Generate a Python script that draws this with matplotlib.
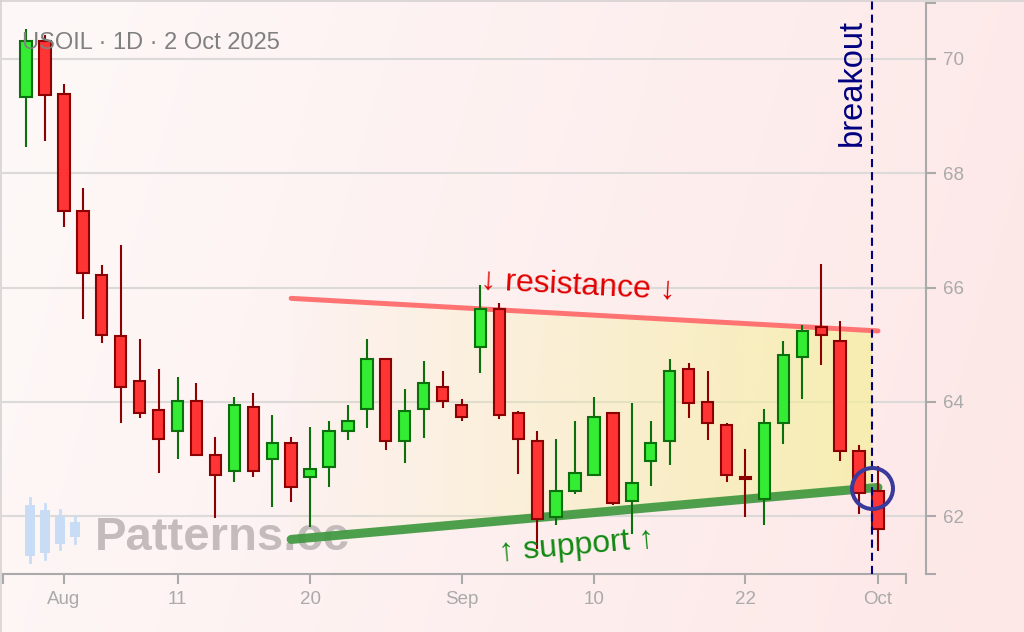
import matplotlib
matplotlib.use('Agg')
import matplotlib.pyplot as plt
import numpy as np
from matplotlib.patches import Polygon, Rectangle
from matplotlib.lines import Line2D

plt.rcParams['font.family'] = ['Liberation Sans', 'DejaVu Sans']

# daily USOIL candles
dates = ['2025-07-30', '2025-07-31', '2025-08-01', '2025-08-04', '2025-08-05',
         '2025-08-06', '2025-08-07', '2025-08-08', '2025-08-11', '2025-08-12',
         '2025-08-13', '2025-08-14', '2025-08-15', '2025-08-18', '2025-08-19',
         '2025-08-20', '2025-08-21', '2025-08-22', '2025-08-25', '2025-08-26',
         '2025-08-27', '2025-08-28', '2025-08-29', '2025-09-01', '2025-09-02',
         '2025-09-03', '2025-09-04', '2025-09-05', '2025-09-08', '2025-09-09',
         '2025-09-10', '2025-09-11', '2025-09-12', '2025-09-15', '2025-09-16',
         '2025-09-17', '2025-09-18', '2025-09-19', '2025-09-22', '2025-09-23',
         '2025-09-24', '2025-09-25', '2025-09-26', '2025-09-29', '2025-09-30',
         '2025-10-01']
opens = [69.33, 70.32, 69.38, 67.34, 66.22, 65.15, 64.37, 63.85, 63.49, 64.02,
         63.07, 62.79, 63.91, 63.00, 63.28, 62.69, 62.86, 63.49, 63.87, 64.75,
         63.31, 63.87, 64.26, 63.95, 64.96, 65.63, 63.81, 63.32, 61.98, 62.44,
         62.72, 63.81, 62.26, 62.96, 63.31, 64.58, 63.99, 63.60, 62.69, 62.30,
         63.63, 64.78, 65.31, 65.07, 63.14, 62.44]
highs = [70.52, 70.42, 69.57, 67.75, 66.39, 66.74, 65.09, 64.57, 64.43, 64.32,
         63.38, 64.08, 64.15, 63.76, 63.38, 63.55, 63.66, 63.94, 65.09, 64.76,
         64.22, 64.71, 64.53, 64.04, 66.04, 65.72, 63.83, 63.48, 63.34, 63.66,
         64.08, 63.82, 63.97, 63.66, 64.74, 64.67, 64.53, 63.62, 63.17, 63.87,
         65.06, 65.34, 66.42, 65.41, 63.24, 62.88]
lows = [68.46, 68.57, 67.06, 65.45, 65.03, 63.63, 63.71, 62.76, 63.00, 63.05,
        61.96, 62.59, 62.69, 62.16, 62.24, 61.81, 62.51, 63.33, 63.54, 63.15,
        62.93, 63.36, 63.89, 63.67, 64.51, 63.70, 62.73, 61.43, 61.84, 62.38,
        62.71, 62.20, 61.68, 62.53, 62.90, 63.71, 63.33, 62.59, 61.99, 61.85,
        63.26, 64.05, 64.65, 62.97, 62.03, 61.39]
closes = [70.32, 69.37, 67.34, 66.25, 65.17, 64.26, 63.80, 63.35, 64.02, 63.07,
          62.72, 63.94, 62.79, 63.28, 62.51, 62.82, 63.49, 63.67, 64.75, 63.31,
          63.84, 64.33, 64.01, 63.74, 65.63, 63.76, 63.34, 61.95, 62.44, 62.76,
          63.73, 62.22, 62.58, 63.28, 64.54, 63.98, 63.63, 62.72, 62.65, 63.63,
          64.82, 65.24, 65.17, 63.14, 62.40, 61.78]

tick_dates = ['2025-08-01', '2025-08-11', '2025-08-20', '2025-09-01',
              '2025-09-10', '2025-09-22', '2025-10-01']
tick_labels = ['Aug', '11', '20', 'Sep', '10', '22', 'Oct']
price_ticks = [62, 64, 66, 68, 70]

# pattern: falling resistance, rising support (candle index, price)
resist_x = [14, 45]
resist_y = [65.81, 65.24]
support_x = [14, 45]
support_y = [61.59, 62.50]
breakout_x = 44.7

W, H = 1024, 632


def fx(px):
    return px / W


def fy(py):
    return 1 - py / H


fig = plt.figure(figsize=(W / 100, H / 100), dpi=100)

# page background, soft pink gradient
bg = fig.add_axes([0, 0, 1, 1], zorder=-5)
bg.axis('off')
gx, gy = np.meshgrid(np.linspace(0, 1, 256), np.linspace(0, 1, 160))
t = 0.85 * gx + 0.15 * gy
c0 = np.array([253, 249, 248]) / 255
c1 = np.array([253, 231, 231]) / 255
bg.imshow(c0 + t[..., None] * (c1 - c0), extent=[0, 1, 0, 1], aspect='auto', origin='upper')
bg.set_xlim(0, 1)
bg.set_ylim(0, 1)
bg.plot([0, 1], [0.999, 0.999], color='#d6d2d2', lw=1.2)
bg.plot([0.0008, 0.0008], [0, 1], color='#d6d2d2', lw=1.2)

ax = fig.add_axes([fx(3), fy(574), fx(906) - fx(3), fy(3) - fy(574)])
ax.set_facecolor('none')

idx = np.arange(len(dates))
o = np.array(opens)
h = np.array(highs)
l = np.array(lows)
c = np.array(closes)
up = c >= o

# yellow wedge with gradient fill, stops at the breakout
r_bx = np.interp(breakout_x, resist_x, resist_y)
s_bx = np.interp(breakout_x, support_x, support_y)
wedge = Polygon([(resist_x[0], resist_y[0]), (breakout_x, r_bx),
                 (breakout_x, s_bx), (support_x[0], support_y[0])],
                closed=True, facecolor='none', edgecolor='none')
ax.add_patch(wedge)
grad = np.zeros((2, 256, 4))
grad[..., 0] = 244 / 255
grad[..., 1] = 240 / 255
grad[..., 2] = 150 / 255
grad[..., 3] = np.linspace(0.04, 0.72, 256) ** 1.2
im = ax.imshow(grad, extent=[resist_x[0], breakout_x, min(support_y), max(resist_y)],
               aspect='auto', zorder=1, interpolation='bilinear')
im.set_clip_path(wedge)

# grid, running a bit past the plot like the original
for v in price_ticks:
    ax.axhline(v, xmin=-3 / 903, xmax=923 / 903, color='#dcd9d9', lw=1.5,
               zorder=0.5, clip_on=False)

# watermark + little logo
ax.text(fx(95), fy(550), 'Patterns.cc', transform=fig.transFigure, fontsize=34,
        fontweight='bold', color='#c4bcbc', va='baseline', ha='left', zorder=1.5)
logo = [(30, 505, 556, 498, 562), (45, 510, 553, 504, 559),
        (60, 516, 544, 510, 549), (75, 522, 537, 516, 543)]
for cx, bt, bb, wt, wb in logo:
    ax.add_line(Line2D([fx(cx), fx(cx)], [fy(wt), fy(wb)], transform=fig.transFigure,
                       color='#c9dcf6', lw=2, zorder=1.5, clip_on=False))
    ax.add_patch(Rectangle((fx(cx - 5), fy(bb)), fx(10), fy(bt) - fy(bb),
                           transform=fig.transFigure, facecolor='#c9dcf6',
                           edgecolor='none', zorder=1.6, clip_on=False))

# pattern lines
ax.plot(resist_x, resist_y, color='#ff7373', lw=3.6, solid_capstyle='round', zorder=2)
ax.plot(support_x, support_y, color='#3f983f', lw=6.5, alpha=0.92,
        solid_capstyle='round', zorder=2)

# candles
face = np.where(up, '#33ec33', '#ff3434')
edge = np.where(up, '#0b6f0b', '#8b0000')
ax.vlines(idx, l, h, colors=edge, lw=1.5, zorder=4)
ax.bar(idx, np.maximum(np.abs(c - o), 0.03), bottom=np.minimum(o, c), width=0.6,
       color=face, edgecolor=edge, linewidth=1.5, zorder=5)

# breakout marker
ax.axvline(breakout_x, ymin=0, ymax=1.006, color='#000080', lw=1.5,
           ls=(0, (3.9, 2.4)), zorder=6, clip_on=False)
ax.plot([breakout_x], [s_bx], 'o', ms=29.5, mfc='none', mec='#3a3a9c', mew=2.9, zorder=7)

ax.text(29.15, 66.04, '↓ resistance ↓', color='#e20000', fontsize=23, rotation=-3,
        ha='center', va='center', rotation_mode='anchor', zorder=7)
ax.text(29.1, 61.47, '↑ support ↑', color='#138a13', fontsize=23, rotation=5,
        ha='center', va='center', rotation_mode='anchor', zorder=7)
ax.text(43.63, 69.58, 'breakout', color='#000080', fontsize=23.5, rotation=90,
        ha='center', va='center', zorder=7)

fig.text(fx(22), fy(49.3), 'USOIL · 1D · 2 Oct 2025', fontsize=17, color='#808080',
         va='baseline', ha='left')

# axes styling
xlo, xhi = -1.22, 46.48
ylo, yhi = 60.985, 70.98
ax.set_xlim(xlo, xhi)
ax.set_ylim(ylo, yhi)
ax.set_xticks([dates.index(d) for d in tick_dates])
ax.set_xticklabels(tick_labels)
ax.set_xticks([xlo, xhi], minor=True)
ax.yaxis.tick_right()
ax.set_yticks(price_ticks)
ax.set_yticklabels([str(v) for v in price_ticks])
ax.set_yticks([ylo, yhi], minor=True)
for side in ['left', 'top']:
    ax.spines[side].set_visible(False)
for side in ['bottom', 'right']:
    ax.spines[side].set_color('#aaaaaa')
    ax.spines[side].set_linewidth(1.5)
ax.spines['right'].set_position(('outward', 14.4))
ax.tick_params(which='both', direction='out', length=7.2, width=1.5, color='#aaaaaa')
ax.tick_params(which='major', labelsize=13.5, labelcolor='#aaaaaa', pad=5)

fig.savefig('out.png', dpi=100)
